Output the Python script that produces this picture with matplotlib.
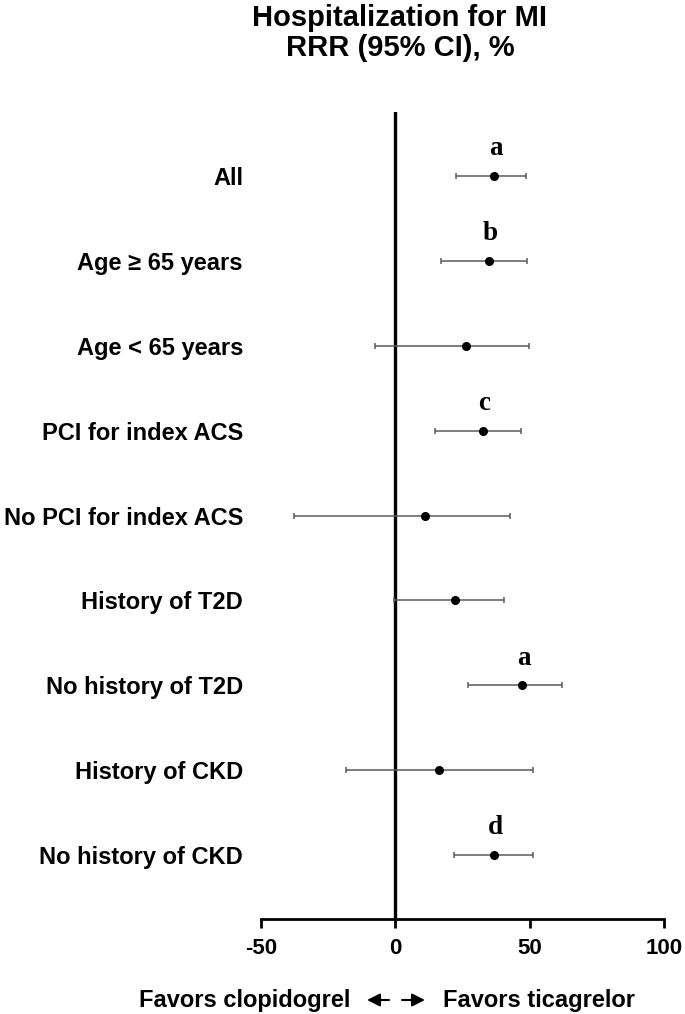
import matplotlib.pyplot as plt

plt.rcParams['font.family'] = ['Liberation Sans', 'DejaVu Sans']
plt.rcParams['axes.unicode_minus'] = False

# datos
subgrupos = ['All', 'Age \u2265 65 years', 'Age < 65 years', 'PCI for index ACS',
             'No PCI for index ACS', 'History of T2D', 'No history of T2D',
             'History of CKD', 'No history of CKD']
rrr = [36.8, 34.7, 26.4, 32.7, 10.9, 22.4, 47.3, 16.3, 36.7]
ic_inf = [22.7, 16.9, -7.5, 14.8, -37.8, -0.5, 26.9, -18.4, 21.8]
ic_sup = [48.7, 49.0, 49.7, 46.8, 42.6, 40.4, 62.1, 51.1, 51.4]
letras = ['a', 'b', '', 'c', '', '', 'a', '', 'd']
xticks = [-50, 0, 50, 100]

fig = plt.figure(figsize=(6.85, 10.14), dpi=100)
ax = fig.add_axes([0.381, 0.0937, 0.5883, 0.7958])

pos = list(range(len(subgrupos)))
err = [[r - lo for r, lo in zip(rrr, ic_inf)], [hi - r for r, hi in zip(rrr, ic_sup)]]

ax.axvline(0, color='black', lw=2.4, zorder=1)
ax.errorbar(rrr, pos, xerr=err, fmt='none', ecolor='#5a5a5a', elinewidth=1.1,
            capsize=2.3, capthick=1.1, zorder=2)
ax.plot(rrr, pos, 'o', color='black', ms=5.5, zorder=3)

for x, y, l in zip(rrr, pos, letras):
    if l:
        ax.annotate(l, (x, y), textcoords='offset points', xytext=(1, 15), ha='center',
                    va='baseline', fontsize=19.5, fontweight='bold', family='Liberation Serif')

ax.set_xlim(-50, 100)
ax.set_ylim(8.75, -0.75)
ax.set_xticks(xticks)
ax.set_xticklabels([str(t) for t in xticks], fontsize=16, fontweight='bold')
ax.set_yticks(pos)
ax.set_yticklabels(subgrupos, fontsize=17, fontweight='bold')
ax.tick_params(axis='y', length=0, pad=13)
ax.tick_params(axis='x', length=6.5, width=2, pad=7, direction='out')

for s in ['top', 'right', 'left']:
    ax.spines[s].set_visible(False)
ax.spines['bottom'].set_linewidth(2)

fig.text(400 / 685, 1 - 33 / 1014, 'Hospitalization for MI\nRRR (95% CI), %', ha='center',
         va='center', fontsize=21, fontweight='bold', linespacing=1.05)

fig.text(350 / 685, 14 / 1014, 'Favors clopidogrel', ha='right', va='center',
         fontsize=17, fontweight='bold')
fig.text(443 / 685, 14 / 1014, 'Favors ticagrelor', ha='left', va='center',
         fontsize=17, fontweight='bold')
flecha = dict(arrowstyle='-|>,head_length=0.7,head_width=0.35', color='black',
              lw=1.5, mutation_scale=11, shrinkA=0, shrinkB=0)
ax.annotate('', xy=(367, 14), xytext=(389, 14), xycoords='figure pixels', arrowprops=flecha)
ax.annotate('', xy=(425, 14), xytext=(402, 14), xycoords='figure pixels', arrowprops=flecha)

fig.savefig('out.png', dpi=100)
